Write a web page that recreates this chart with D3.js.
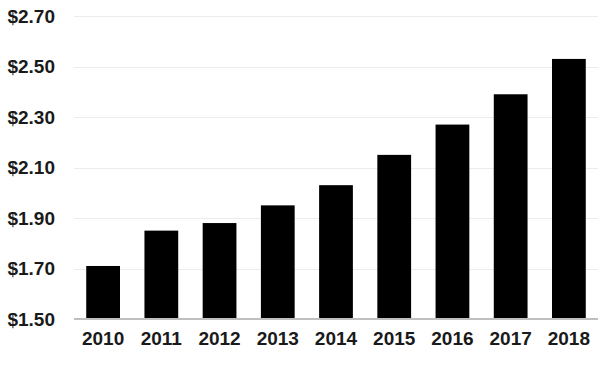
<!DOCTYPE html>
<html lang="en">
<head>
<meta charset="UTF-8" />
<title>Price by Year</title>
<script src="https://d3js.org/d3.v7.min.js"></script>
<style>
  body { margin: 0; background: #fff; }
  text { font-family: "Liberation Sans", Arial, sans-serif; font-weight: bold; fill: #1a1a1a; }
</style>
</head>
<body>
<div id="chart"></div>
<script>
// data
const years = ["2010", "2011", "2012", "2013", "2014", "2015", "2016", "2017", "2018"];
const prices = [1.71, 1.85, 1.88, 1.95, 2.03, 2.15, 2.27, 2.39, 2.53];
const yTicks = [1.50, 1.70, 1.90, 2.10, 2.30, 2.50, 2.70];

const width = 615, height = 366;
const margin = { top: 16, right: 17, bottom: 47, left: 74 };

const svg = d3.select("#chart").append("svg")
  .attr("width", width)
  .attr("height", height);

const x = d3.scaleBand()
  .domain(years)
  .range([margin.left, width - margin.right])
  .paddingInner(0.42)
  .paddingOuter(0.21);

const y = d3.scaleLinear()
  .domain([1.5, 2.7])
  .range([height - margin.bottom, margin.top]);

// gridlines
svg.append("g")
  .selectAll("line")
  .data(yTicks.slice(1))
  .enter().append("line")
  .attr("x1", margin.left)
  .attr("x2", width - margin.right)
  .attr("y1", d => Math.round(y(d)) + 0.5)
  .attr("y2", d => Math.round(y(d)) + 0.5)
  .attr("stroke", "#ececec")
  .attr("stroke-width", 1);

// bars
svg.append("g")
  .selectAll("rect")
  .data(prices)
  .enter().append("rect")
  .attr("x", (d, i) => x(years[i]))
  .attr("y", d => y(d))
  .attr("width", x.bandwidth())
  .attr("height", d => y(1.5) - y(d))
  .attr("fill", "#000");

// baseline
svg.append("line")
  .attr("x1", margin.left)
  .attr("x2", width - margin.right)
  .attr("y1", y(1.5))
  .attr("y2", y(1.5))
  .attr("stroke", "#bfbfbf")
  .attr("stroke-width", 2);

// y labels
svg.append("g")
  .selectAll("text")
  .data(yTicks)
  .enter().append("text")
  .attr("x", 55)
  .attr("y", d => y(d))
  .attr("dy", "0.35em")
  .attr("text-anchor", "end")
  .style("font-size", "19px")
  .text(d => "$" + d.toFixed(2));

// x labels
svg.append("g")
  .selectAll("text")
  .data(years)
  .enter().append("text")
  .attr("x", d => x(d) + x.bandwidth() / 2)
  .attr("y", 345)
  .attr("text-anchor", "middle")
  .style("font-size", "19px")
  .text(d => d);
</script>
</body>
</html>
